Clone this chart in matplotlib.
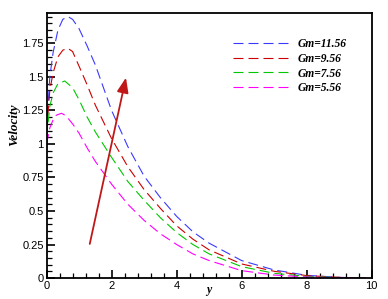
import matplotlib
matplotlib.use("Agg")
import matplotlib.pyplot as plt
from matplotlib.ticker import MultipleLocator, FixedLocator

# Data
x_gm1156 = [0, 0.1, 0.2, 0.35, 0.5, 0.66, 0.8, 1.0, 1.25, 1.5, 2.0, 2.5, 3.0, 3.5, 4.0, 4.5, 5.0, 6.0, 7.0, 8.0, 9.0, 9.8]
v_gm1156 = [1.1, 1.5, 1.68, 1.85, 1.93, 1.95, 1.93, 1.86, 1.73, 1.59, 1.25, 0.98, 0.76, 0.6, 0.46, 0.345, 0.26, 0.13, 0.06, 0.02, 0.005, 0.0]

x_gm956 = [0, 0.1, 0.2, 0.35, 0.5, 0.65, 0.8, 1.0, 1.25, 1.5, 2.0, 2.5, 3.0, 3.5, 4.0, 4.5, 5.0, 6.0, 7.0, 8.0, 9.0, 9.8]
v_gm956 = [1.1, 1.4, 1.53, 1.65, 1.70, 1.714, 1.69, 1.58, 1.44, 1.29, 1.04, 0.83, 0.66, 0.52, 0.39, 0.29, 0.21, 0.105, 0.05, 0.018, 0.005, 0.0]

x_gm756 = [0, 0.1, 0.2, 0.35, 0.56, 0.8, 1.0, 1.25, 1.5, 2.0, 2.5, 3.0, 3.5, 4.0, 4.5, 5.0, 6.0, 7.0, 8.0, 9.0, 9.8]
v_gm756 = [1.05, 1.28, 1.38, 1.45, 1.47, 1.42, 1.33, 1.2, 1.09, 0.9, 0.72, 0.58, 0.45, 0.34, 0.25, 0.18, 0.085, 0.035, 0.012, 0.003, 0.0]

x_gm556 = [0, 0.1, 0.2, 0.3, 0.46, 0.6, 0.8, 1.0, 1.25, 1.5, 2.0, 2.5, 3.0, 3.5, 4.0, 4.5, 5.0, 6.0, 7.0, 8.0, 9.0, 9.8]
v_gm556 = [1.0, 1.12, 1.18, 1.215, 1.229, 1.21, 1.15, 1.08, 0.97, 0.87, 0.7, 0.55, 0.43, 0.33, 0.25, 0.18, 0.13, 0.055, 0.022, 0.008, 0.002, 0.0]

labels = ["Gm=11.56", "Gm=9.56", "Gm=7.56", "Gm=5.56"]
colors = ["#3a3aff", "#cc0000", "#00c800", "#ff00ff"]

yticks = [0, 0.25, 0.5, 0.75, 1, 1.25, 1.5, 1.75]
ytick_labels = ["0", "0.25", "0.5", "0.75", "1", "1.25", "1.5", "1.75"]
xticks = [0, 2, 4, 6, 8, 10]

fig = plt.figure(figsize=(3.88, 2.99), dpi=100)
ax = fig.add_axes([0.120, 0.0702, 0.838, 0.8853])

series = [(x_gm1156, v_gm1156), (x_gm956, v_gm956), (x_gm756, v_gm756), (x_gm556, v_gm556)]
for (xs, vs), lab, c in zip(series, labels, colors):
    ax.plot(xs, vs, color=c, lw=0.8, dashes=(9, 4.5), label=lab)

ax.set_xlim(0, 10)
ax.set_ylim(0, 1.975)

ax.yaxis.set_major_locator(FixedLocator(yticks))
ax.set_yticklabels(ytick_labels)
ax.yaxis.set_minor_locator(MultipleLocator(0.05))
ax.xaxis.set_major_locator(FixedLocator(xticks))
ax.xaxis.set_minor_locator(MultipleLocator(0.4))

ax.tick_params(which="both", direction="in", top=False, right=False)
ax.tick_params(which="major", length=6, width=1.2, labelsize=8, pad=2)
ax.tick_params(which="minor", length=3.5, width=0.9)
for lbl in ax.get_xticklabels() + ax.get_yticklabels():
    lbl.set_family("Liberation Sans")
for sp in ax.spines.values():
    sp.set_linewidth(1.3)

ax.set_ylabel("Velocity", family="Liberation Serif", fontweight="bold", style="italic", fontsize=9.5)
ax.yaxis.label.set_va("center")
ax.yaxis.set_label_coords(-0.098, 0.578)
ax.set_xlabel("y", family="Liberation Serif", fontweight="bold", style="italic", fontsize=8.5)
ax.xaxis.label.set_va("top")
ax.xaxis.set_label_coords(0.5, -0.022)

ax.annotate("", xy=(2.46, 1.515), xytext=(1.31, 0.234),
            arrowprops=dict(arrowstyle="-|>,head_length=0.9,head_width=0.35", color="#c01818", lw=1.3))

leg = ax.legend(loc="upper left", bbox_to_anchor=(0.573, 0.905), frameon=False,
                prop=dict(family="Liberation Serif", weight="bold", style="italic", size=8.3),
                handlelength=4.8, handletextpad=0.8, labelspacing=0.22, borderpad=0, borderaxespad=0)

fig.savefig("out.png", dpi=100)
